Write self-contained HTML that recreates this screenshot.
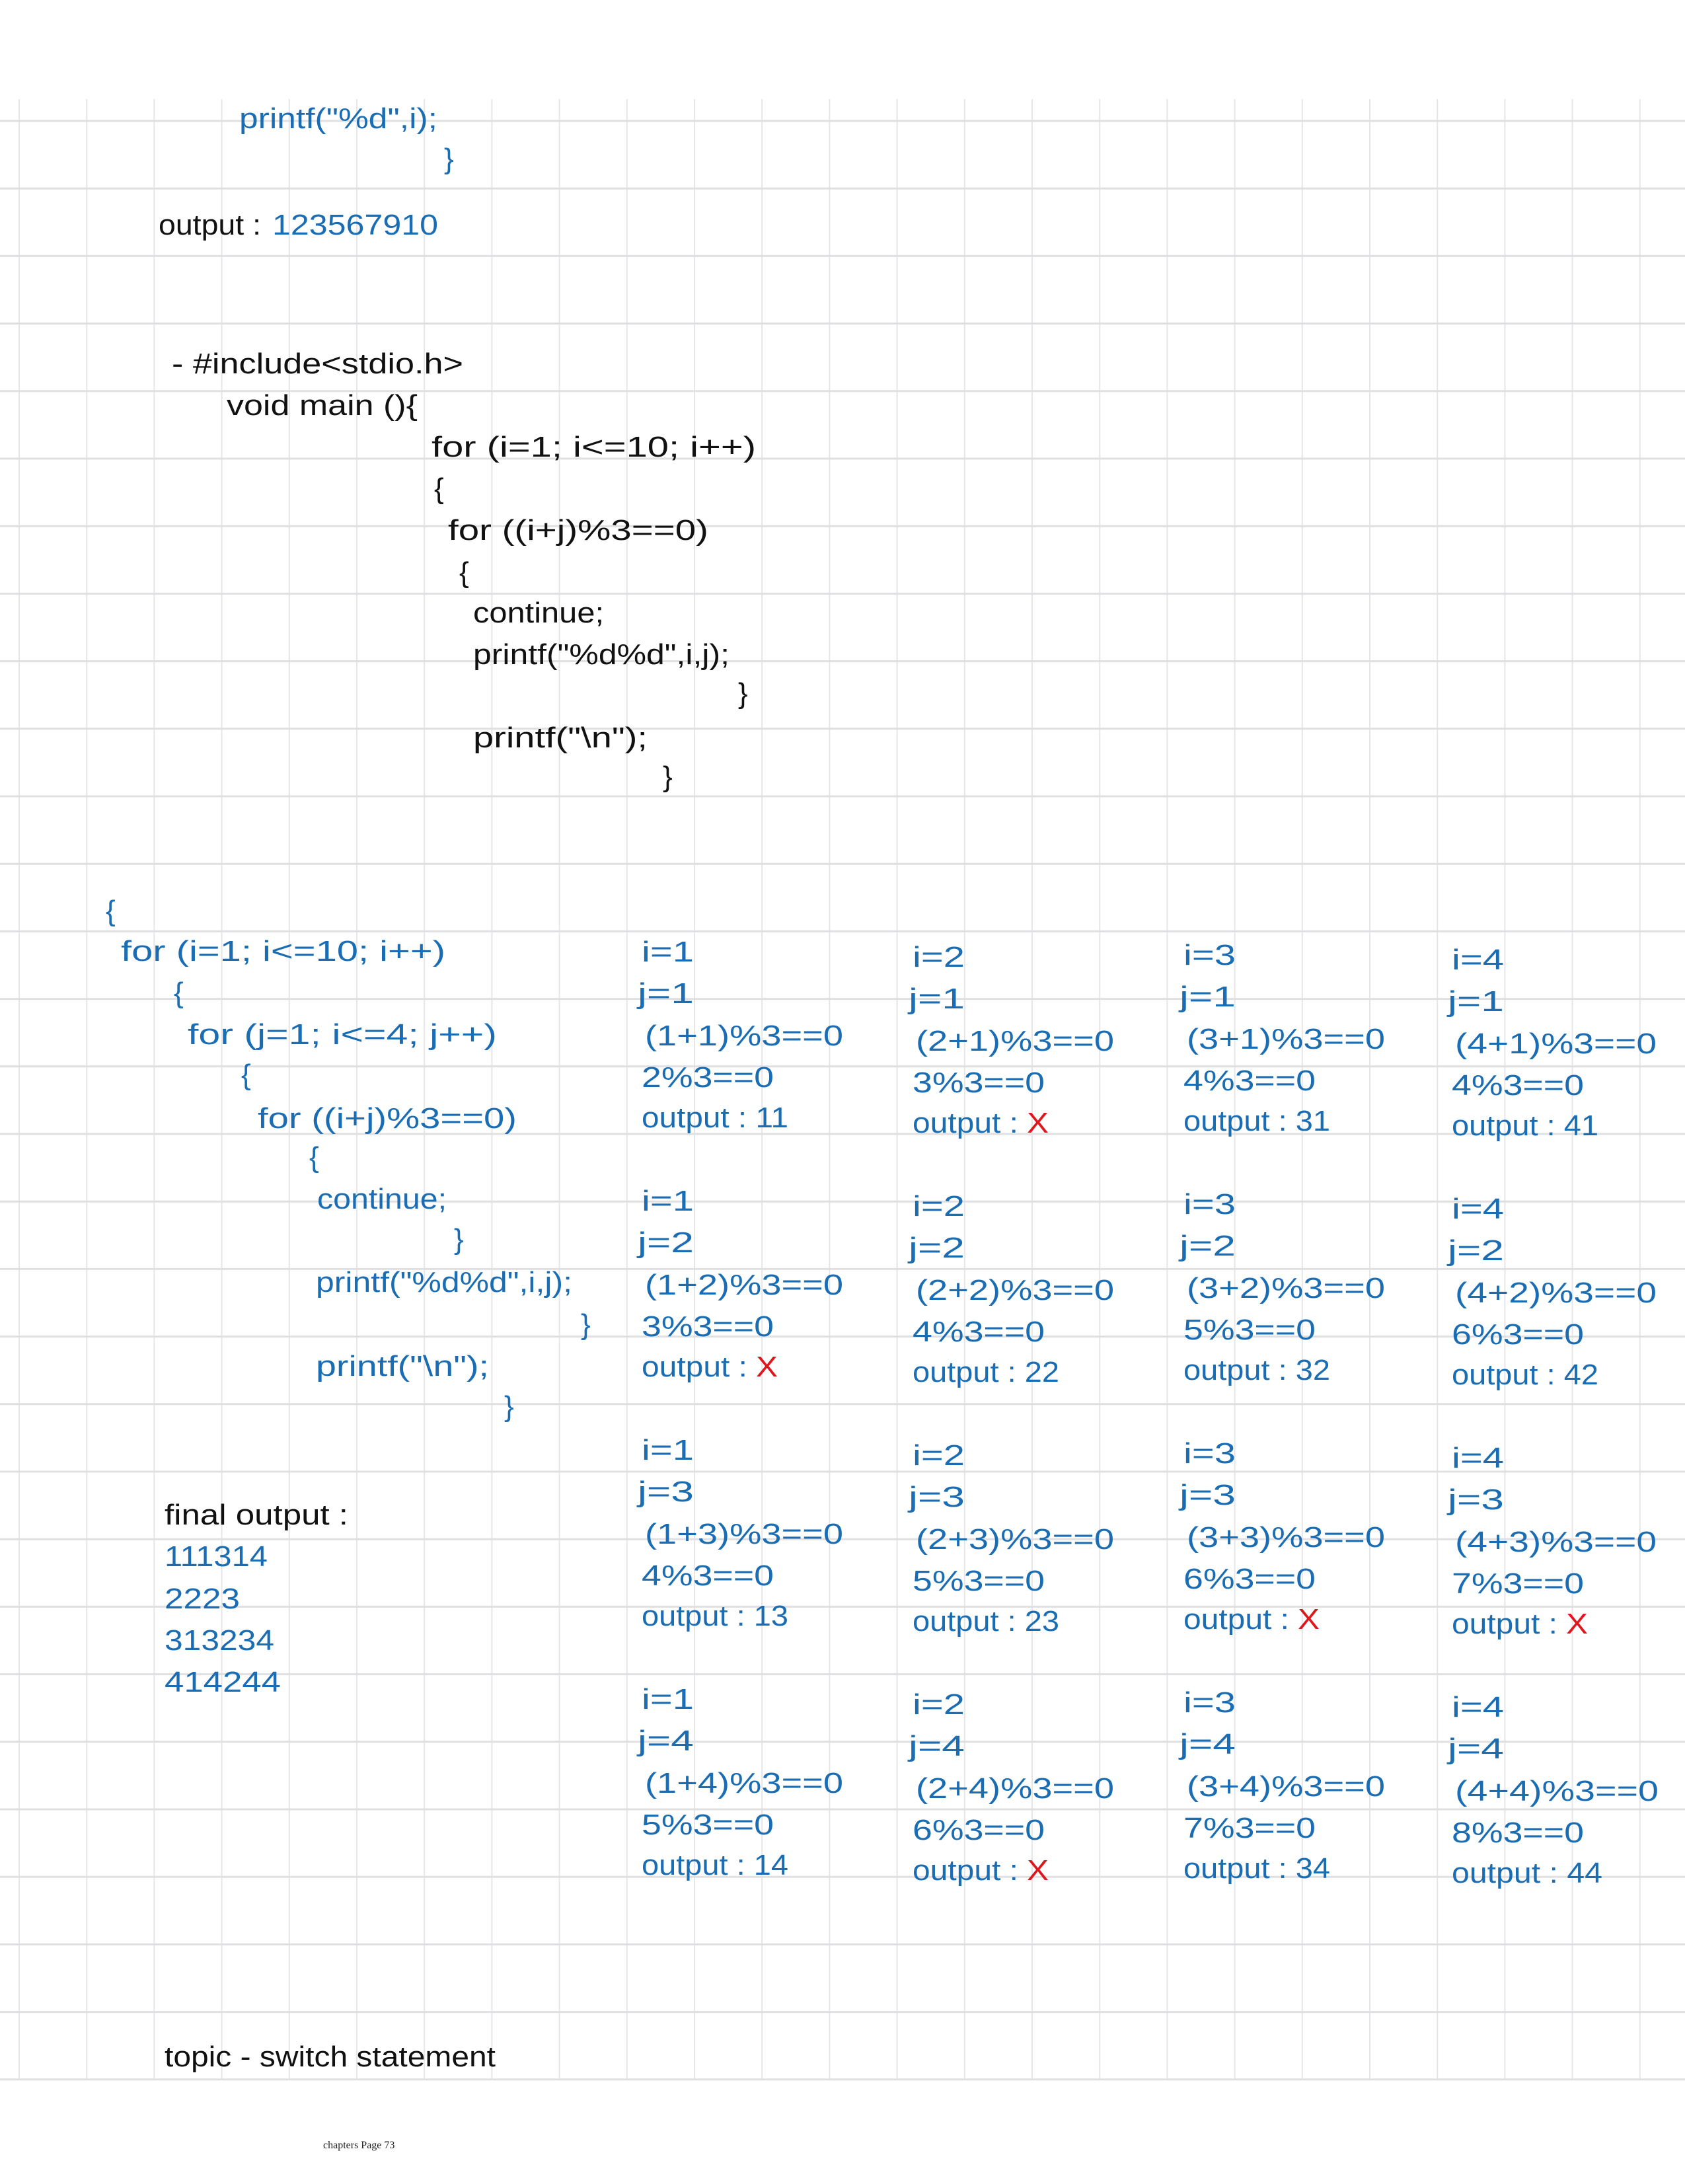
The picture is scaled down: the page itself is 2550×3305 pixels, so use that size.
<!DOCTYPE html>
<html><head><meta charset="utf-8"><style>
html,body{margin:0;padding:0;background:#fff;}
svg{display:block;}
text{font-family:"Liberation Sans",sans-serif;font-size:44px;}
.b{fill:#1b6db3;}
.k{fill:#111;}
.r{fill:#e0161c;}
</style></head><body>
<svg width="2550" height="3305" viewBox="0 0 2550 3305" xmlns="http://www.w3.org/2000/svg">
<path fill="none" stroke="#e6e6e8" stroke-width="2" d="M29 150V3148M131.2 150V3148M233.4 150V3148M335.6 150V3148M437.8 150V3148M540 150V3148M642.2 150V3148M744.4 150V3148M846.6 150V3148M948.8 150V3148M1051 150V3148M1153.2 150V3148M1255.4 150V3148M1357.6 150V3148M1459.8 150V3148M1562 150V3148M1664.2 150V3148M1766.4 150V3148M1868.6 150V3148M1970.8 150V3148M2073 150V3148M2175.2 150V3148M2277.4 150V3148M2379.6 150V3148M2481.8 150V3148"/>
<path fill="none" stroke="#e0e0e2" stroke-width="3" d="M0 183H2550M0 285.2H2550M0 387.4H2550M0 489.6H2550M0 591.8H2550M0 694H2550M0 796.2H2550M0 898.4H2550M0 1000.6H2550M0 1102.8H2550M0 1205H2550M0 1307.2H2550M0 1409.4H2550M0 1511.6H2550M0 1613.8H2550M0 1716H2550M0 1818.2H2550M0 1920.4H2550M0 2022.6H2550M0 2124.8H2550M0 2227H2550M0 2329.2H2550M0 2431.4H2550M0 2533.6H2550M0 2635.8H2550M0 2738H2550M0 2840.2H2550M0 2942.4H2550M0 3044.6H2550M0 3146.8H2550"/>
<!-- top -->
<text class="b" x="362" y="194" textLength="300" lengthAdjust="spacingAndGlyphs">printf("%d",i);</text>
<text class="b" x="672" y="255">}</text>
<text class="k" x="240" y="355" textLength="155" lengthAdjust="spacingAndGlyphs">output :</text>
<text class="b" x="412" y="355" textLength="251" lengthAdjust="spacingAndGlyphs">123567910</text>
<!-- black code -->
<text class="k" x="260" y="565" textLength="441" lengthAdjust="spacingAndGlyphs">- #include&lt;stdio.h&gt;</text>
<text class="k" x="343" y="628" textLength="289" lengthAdjust="spacingAndGlyphs">void main (){</text>
<text class="k" x="653" y="691" textLength="491" lengthAdjust="spacingAndGlyphs">for (i=1; i&lt;=10; i++)</text>
<text class="k" x="657" y="754">{</text>
<text class="k" x="678" y="817" textLength="394" lengthAdjust="spacingAndGlyphs">for ((i+j)%3==0)</text>
<text class="k" x="695" y="881">{</text>
<text class="k" x="716" y="942" textLength="198" lengthAdjust="spacingAndGlyphs">continue;</text>
<text class="k" x="716" y="1005" textLength="388" lengthAdjust="spacingAndGlyphs">printf("%d%d",i,j);</text>
<text class="k" x="1117" y="1064">}</text>
<text class="k" x="716" y="1131" textLength="264" lengthAdjust="spacingAndGlyphs">printf("\n");</text>
<text class="k" x="1003" y="1190">}</text>
<!-- blue code -->
<text class="b" x="160" y="1393">{</text>
<text class="b" x="183" y="1454" textLength="491" lengthAdjust="spacingAndGlyphs">for (i=1; i&lt;=10; i++)</text>
<text class="b" x="263" y="1517">{</text>
<text class="b" x="284" y="1580" textLength="468" lengthAdjust="spacingAndGlyphs">for (j=1; i&lt;=4; j++)</text>
<text class="b" x="365" y="1641">{</text>
<text class="b" x="390" y="1707" textLength="392" lengthAdjust="spacingAndGlyphs">for ((i+j)%3==0)</text>
<text class="b" x="468" y="1766">{</text>
<text class="b" x="480" y="1829" textLength="196" lengthAdjust="spacingAndGlyphs">continue;</text>
<text class="b" x="687" y="1890">}</text>
<text class="b" x="478" y="1955" textLength="388" lengthAdjust="spacingAndGlyphs">printf("%d%d",i,j);</text>
<text class="b" x="879" y="2019">}</text>
<text class="b" x="478" y="2082" textLength="262" lengthAdjust="spacingAndGlyphs">printf("\n");</text>
<text class="b" x="763" y="2143">}</text>
<!-- final output -->
<text class="k" x="249" y="2307" textLength="278" lengthAdjust="spacingAndGlyphs">final output :</text>
<text class="b" x="249" y="2370" textLength="156" lengthAdjust="spacingAndGlyphs">111314</text>
<text class="b" x="249" y="2434" textLength="114" lengthAdjust="spacingAndGlyphs">2223</text>
<text class="b" x="249" y="2497" textLength="166" lengthAdjust="spacingAndGlyphs">313234</text>
<text class="b" x="249" y="2560" textLength="176" lengthAdjust="spacingAndGlyphs">414244</text>

<!-- table: column 1 -->
<g transform="translate(971,1455)"><text class="b" x="0" y="0" textLength="79" lengthAdjust="spacingAndGlyphs">i=1</text><text class="b" x="-6" y="63" textLength="85" lengthAdjust="spacingAndGlyphs">j=1</text><text class="b" x="5" y="127" textLength="300" lengthAdjust="spacingAndGlyphs">(1+1)%3==0</text><text class="b" x="0" y="190" textLength="200" lengthAdjust="spacingAndGlyphs">2%3==0</text><text class="b" x="0" y="251" textLength="222" lengthAdjust="spacingAndGlyphs">output : 11</text></g>
<g transform="translate(971,1832)"><text class="b" x="0" y="0" textLength="79" lengthAdjust="spacingAndGlyphs">i=1</text><text class="b" x="-6" y="63" textLength="85" lengthAdjust="spacingAndGlyphs">j=2</text><text class="b" x="5" y="127" textLength="300" lengthAdjust="spacingAndGlyphs">(1+2)%3==0</text><text class="b" x="0" y="190" textLength="200" lengthAdjust="spacingAndGlyphs">3%3==0</text><text class="b" x="0" y="251" textLength="160" lengthAdjust="spacingAndGlyphs">output :</text><text class="r" x="173" y="251" textLength="33" lengthAdjust="spacingAndGlyphs">X</text></g>
<g transform="translate(971,2209)"><text class="b" x="0" y="0" textLength="79" lengthAdjust="spacingAndGlyphs">i=1</text><text class="b" x="-6" y="63" textLength="85" lengthAdjust="spacingAndGlyphs">j=3</text><text class="b" x="5" y="127" textLength="300" lengthAdjust="spacingAndGlyphs">(1+3)%3==0</text><text class="b" x="0" y="190" textLength="200" lengthAdjust="spacingAndGlyphs">4%3==0</text><text class="b" x="0" y="251" textLength="222" lengthAdjust="spacingAndGlyphs">output : 13</text></g>
<g transform="translate(971,2586)"><text class="b" x="0" y="0" textLength="79" lengthAdjust="spacingAndGlyphs">i=1</text><text class="b" x="-6" y="63" textLength="85" lengthAdjust="spacingAndGlyphs">j=4</text><text class="b" x="5" y="127" textLength="300" lengthAdjust="spacingAndGlyphs">(1+4)%3==0</text><text class="b" x="0" y="190" textLength="200" lengthAdjust="spacingAndGlyphs">5%3==0</text><text class="b" x="0" y="251" textLength="222" lengthAdjust="spacingAndGlyphs">output : 14</text></g>
<!-- column 2 -->
<g transform="translate(1381,1463)"><text class="b" x="0" y="0" textLength="79" lengthAdjust="spacingAndGlyphs">i=2</text><text class="b" x="-6" y="63" textLength="85" lengthAdjust="spacingAndGlyphs">j=1</text><text class="b" x="5" y="127" textLength="300" lengthAdjust="spacingAndGlyphs">(2+1)%3==0</text><text class="b" x="0" y="190" textLength="200" lengthAdjust="spacingAndGlyphs">3%3==0</text><text class="b" x="0" y="251" textLength="160" lengthAdjust="spacingAndGlyphs">output :</text><text class="r" x="173" y="251" textLength="33" lengthAdjust="spacingAndGlyphs">X</text></g>
<g transform="translate(1381,1840)"><text class="b" x="0" y="0" textLength="79" lengthAdjust="spacingAndGlyphs">i=2</text><text class="b" x="-6" y="63" textLength="85" lengthAdjust="spacingAndGlyphs">j=2</text><text class="b" x="5" y="127" textLength="300" lengthAdjust="spacingAndGlyphs">(2+2)%3==0</text><text class="b" x="0" y="190" textLength="200" lengthAdjust="spacingAndGlyphs">4%3==0</text><text class="b" x="0" y="251" textLength="222" lengthAdjust="spacingAndGlyphs">output : 22</text></g>
<g transform="translate(1381,2217)"><text class="b" x="0" y="0" textLength="79" lengthAdjust="spacingAndGlyphs">i=2</text><text class="b" x="-6" y="63" textLength="85" lengthAdjust="spacingAndGlyphs">j=3</text><text class="b" x="5" y="127" textLength="300" lengthAdjust="spacingAndGlyphs">(2+3)%3==0</text><text class="b" x="0" y="190" textLength="200" lengthAdjust="spacingAndGlyphs">5%3==0</text><text class="b" x="0" y="251" textLength="222" lengthAdjust="spacingAndGlyphs">output : 23</text></g>
<g transform="translate(1381,2594)"><text class="b" x="0" y="0" textLength="79" lengthAdjust="spacingAndGlyphs">i=2</text><text class="b" x="-6" y="63" textLength="85" lengthAdjust="spacingAndGlyphs">j=4</text><text class="b" x="5" y="127" textLength="300" lengthAdjust="spacingAndGlyphs">(2+4)%3==0</text><text class="b" x="0" y="190" textLength="200" lengthAdjust="spacingAndGlyphs">6%3==0</text><text class="b" x="0" y="251" textLength="160" lengthAdjust="spacingAndGlyphs">output :</text><text class="r" x="173" y="251" textLength="33" lengthAdjust="spacingAndGlyphs">X</text></g>
<!-- column 3 -->
<g transform="translate(1791,1460)"><text class="b" x="0" y="0" textLength="79" lengthAdjust="spacingAndGlyphs">i=3</text><text class="b" x="-6" y="63" textLength="85" lengthAdjust="spacingAndGlyphs">j=1</text><text class="b" x="5" y="127" textLength="300" lengthAdjust="spacingAndGlyphs">(3+1)%3==0</text><text class="b" x="0" y="190" textLength="200" lengthAdjust="spacingAndGlyphs">4%3==0</text><text class="b" x="0" y="251" textLength="222" lengthAdjust="spacingAndGlyphs">output : 31</text></g>
<g transform="translate(1791,1837)"><text class="b" x="0" y="0" textLength="79" lengthAdjust="spacingAndGlyphs">i=3</text><text class="b" x="-6" y="63" textLength="85" lengthAdjust="spacingAndGlyphs">j=2</text><text class="b" x="5" y="127" textLength="300" lengthAdjust="spacingAndGlyphs">(3+2)%3==0</text><text class="b" x="0" y="190" textLength="200" lengthAdjust="spacingAndGlyphs">5%3==0</text><text class="b" x="0" y="251" textLength="222" lengthAdjust="spacingAndGlyphs">output : 32</text></g>
<g transform="translate(1791,2214)"><text class="b" x="0" y="0" textLength="79" lengthAdjust="spacingAndGlyphs">i=3</text><text class="b" x="-6" y="63" textLength="85" lengthAdjust="spacingAndGlyphs">j=3</text><text class="b" x="5" y="127" textLength="300" lengthAdjust="spacingAndGlyphs">(3+3)%3==0</text><text class="b" x="0" y="190" textLength="200" lengthAdjust="spacingAndGlyphs">6%3==0</text><text class="b" x="0" y="251" textLength="160" lengthAdjust="spacingAndGlyphs">output :</text><text class="r" x="173" y="251" textLength="33" lengthAdjust="spacingAndGlyphs">X</text></g>
<g transform="translate(1791,2591)"><text class="b" x="0" y="0" textLength="79" lengthAdjust="spacingAndGlyphs">i=3</text><text class="b" x="-6" y="63" textLength="85" lengthAdjust="spacingAndGlyphs">j=4</text><text class="b" x="5" y="127" textLength="300" lengthAdjust="spacingAndGlyphs">(3+4)%3==0</text><text class="b" x="0" y="190" textLength="200" lengthAdjust="spacingAndGlyphs">7%3==0</text><text class="b" x="0" y="251" textLength="222" lengthAdjust="spacingAndGlyphs">output : 34</text></g>
<!-- column 4 -->
<g transform="translate(2197,1467)"><text class="b" x="0" y="0" textLength="79" lengthAdjust="spacingAndGlyphs">i=4</text><text class="b" x="-6" y="63" textLength="85" lengthAdjust="spacingAndGlyphs">j=1</text><text class="b" x="5" y="127" textLength="305" lengthAdjust="spacingAndGlyphs">(4+1)%3==0</text><text class="b" x="0" y="190" textLength="200" lengthAdjust="spacingAndGlyphs">4%3==0</text><text class="b" x="0" y="251" textLength="222" lengthAdjust="spacingAndGlyphs">output : 41</text></g>
<g transform="translate(2197,1844)"><text class="b" x="0" y="0" textLength="79" lengthAdjust="spacingAndGlyphs">i=4</text><text class="b" x="-6" y="63" textLength="85" lengthAdjust="spacingAndGlyphs">j=2</text><text class="b" x="5" y="127" textLength="305" lengthAdjust="spacingAndGlyphs">(4+2)%3==0</text><text class="b" x="0" y="190" textLength="200" lengthAdjust="spacingAndGlyphs">6%3==0</text><text class="b" x="0" y="251" textLength="222" lengthAdjust="spacingAndGlyphs">output : 42</text></g>
<g transform="translate(2197,2221)"><text class="b" x="0" y="0" textLength="79" lengthAdjust="spacingAndGlyphs">i=4</text><text class="b" x="-6" y="63" textLength="85" lengthAdjust="spacingAndGlyphs">j=3</text><text class="b" x="5" y="127" textLength="305" lengthAdjust="spacingAndGlyphs">(4+3)%3==0</text><text class="b" x="0" y="190" textLength="200" lengthAdjust="spacingAndGlyphs">7%3==0</text><text class="b" x="0" y="251" textLength="160" lengthAdjust="spacingAndGlyphs">output :</text><text class="r" x="173" y="251" textLength="33" lengthAdjust="spacingAndGlyphs">X</text></g>
<g transform="translate(2197,2598)"><text class="b" x="0" y="0" textLength="79" lengthAdjust="spacingAndGlyphs">i=4</text><text class="b" x="-6" y="63" textLength="85" lengthAdjust="spacingAndGlyphs">j=4</text><text class="b" x="5" y="127" textLength="308" lengthAdjust="spacingAndGlyphs">(4+4)%3==0</text><text class="b" x="0" y="190" textLength="200" lengthAdjust="spacingAndGlyphs">8%3==0</text><text class="b" x="0" y="251" textLength="228" lengthAdjust="spacingAndGlyphs">output : 44</text></g>

<text class="k" x="249" y="3127" textLength="501" lengthAdjust="spacingAndGlyphs">topic - switch statement</text>
<text x="489" y="3251" style="font-family:'Liberation Serif',serif;font-size:16px;fill:#222">chapters Page 73</text>
</svg>
</body></html>
